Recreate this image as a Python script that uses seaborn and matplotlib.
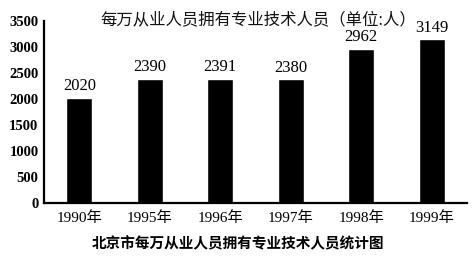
import matplotlib
matplotlib.use("Agg")
import matplotlib.pyplot as plt
import seaborn as sns
import pandas as pd

years = ["1990年", "1995年", "1996年", "1997年", "1998年", "1999年"]
values = [2020, 2390, 2391, 2380, 2962, 3149]
title = "每万从业人员拥有专业技术人员（单位:人）"
caption = "北京市每万从业人员拥有专业技术人员统计图"

sns.set_style("white")
plt.rcParams['font.family'] = ['Liberation Serif', 'Noto Sans CJK SC', 'DejaVu Sans']

df = pd.DataFrame({"year": years, "value": values})

fig = plt.figure(figsize=(4.75, 2.59), dpi=100)
ax = fig.add_axes([44/475, 1-203/259, (467-44)/475, (203-21)/259])
sns.barplot(data=df, x="year", y="value", color="black", width=0.37,
            saturation=1, ax=ax)

ax.set_xlim(-0.5, 5.5)
ax.set_ylim(0, 3500)
ax.set_yticks(range(0, 3501, 500))
ax.set_xlabel("")
ax.set_ylabel("")

for sp in ["top", "right"]:
    ax.spines[sp].set_visible(False)
for sp in ["left", "bottom"]:
    ax.spines[sp].set_linewidth(1.6)
    ax.spines[sp].set_color("black")

ax.tick_params(axis="y", direction="in", length=7, width=1.6, pad=4,
               labelsize=10.5, colors="black")
for lab in ax.get_yticklabels():
    lab.set_fontweight("bold")
ax.tick_params(axis="x", which="major", length=0, pad=6, labelsize=11,
               colors="black")
ax.set_xticks([i + 0.5 for i in range(6)], minor=True)
ax.tick_params(axis="x", which="minor", direction="in", length=6, width=1.4)

for i, v in enumerate(values):
    ax.text(i, v + 70, str(v), ha="center", va="bottom", fontsize=12,
            color="black")

fig.text(258/475, 1-20/259, title, ha="center", va="center",
         fontsize=11.8, family=['Noto Sans CJK SC', 'DejaVu Sans'], color="#111111")
fig.text(238/475, 1-243/259, caption, ha="center", va="center",
         fontsize=10.5, fontweight="bold",
         family=['Noto Sans CJK SC', 'DejaVu Sans'], color="black")

fig.savefig("out.png", dpi=100)
